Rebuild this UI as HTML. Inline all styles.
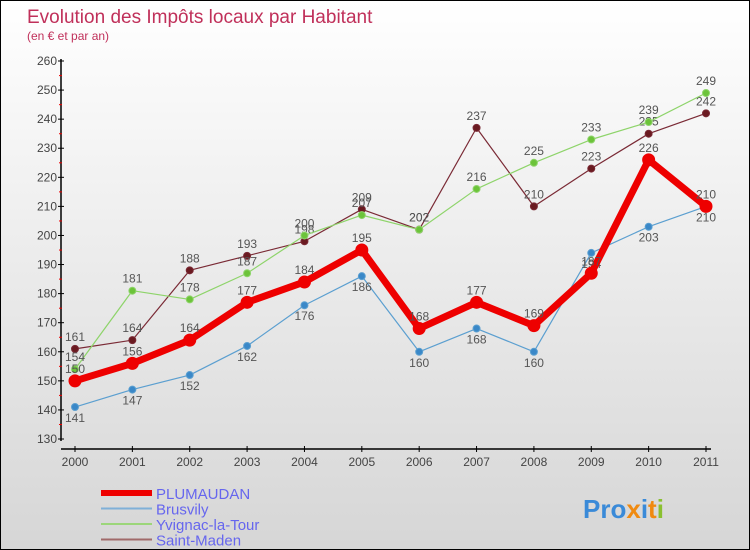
<!DOCTYPE html>
<html><head><meta charset="utf-8"><style>
body{margin:0}
#wrap{width:748px;height:548px;border:1px solid #000;background:linear-gradient(#fff,#d6d6d6);position:relative;font-family:"Liberation Sans",sans-serif;overflow:hidden}
</style></head><body>
<div id="wrap">
<svg id="chart" width="748" height="548"></svg>
</div>
<script>
const years=["2000","2001","2002","2003","2004","2005","2006","2007","2008","2009","2010","2011"];
const plumaudan=[150,156,164,177,184,195,168,177,169,187,226,210];
const brusvily=[141,147,152,162,176,186,160,168,160,194,203,210];
const yvignac=[154,181,178,187,200,207,202,216,225,233,239,249];
const saintMaden=[161,164,188,193,198,209,202,237,210,223,235,242];
const yTicks=[130,140,150,160,170,180,190,200,210,220,230,240,250,260];
const svg=document.getElementById('chart');const NS='http://www.w3.org/2000/svg';
function mk(t,a,p){const e=document.createElementNS(NS,t);for(const k in a)e.setAttribute(k,a[k]);(p||svg).appendChild(e);return e;}
const xS=i=>74+i*(631/11);
const yS=v=>438-(v-130)*(378/130);
let t=mk('text',{x:26,y:22,'font-size':19,fill:'#c0305a'});t.textContent='Evolution des Impôts locaux par Habitant';

t=mk('text',{x:26,y:39,'font-size':12,fill:'#c0305a'});t.textContent='(en € et par an)';

let ax=mk('line',{x1:60,y1:58,x2:60,y2:440,stroke:'#000','stroke-width':1.5});

ax=mk('line',{x1:60,y1:448,x2:710,y2:448,stroke:'#000','stroke-width':1.5});

yTicks.forEach((v,i)=>{const y=yS(v);mk('line',{x1:57,y1:y,x2:63,y2:y,stroke:'#000'});
if(i<yTicks.length-1)mk('line',{x1:58,y1:y-14.5,x2:61,y2:y-14.5,stroke:'#e00'});
const l=mk('text',{x:56,y:y+4,'font-size':12,fill:'#444','text-anchor':'end'});l.textContent=v;
});
years.forEach((yr,i)=>{const x=xS(i);mk('line',{x1:x,y1:445,x2:x,y2:451,stroke:'#000'});
const l=mk('text',{x:x,y:465,'font-size':12,fill:'#444','text-anchor':'middle'});l.textContent=yr;
});
function series(data,color,w,r,dot,name,labelBelow){
const g=mk('g',{});
mk('polyline',{points:data.map((v,i)=>xS(i)+','+yS(v)).join(' '),fill:'none',stroke:color,'stroke-width':w,'stroke-linejoin':'round'},g);
data.forEach((v,i)=>{const c=mk('circle',{cx:xS(i),cy:yS(v),r:r,fill:dot,stroke:color,'stroke-width':1},g);

const l=mk('text',{x:xS(i),y:labelBelow?yS(v)+15:yS(v)-8,'font-size':12,fill:'#555','text-anchor':'middle'},g);l.textContent=v;});}
series(saintMaden,'#7a2a35',1.2,3.5,'#6a1a20','saint-maden',false);
series(yvignac,'#8ed46a',1.2,3.5,'#6cc33a','yvignac',false);
series(brusvily,'#5b9fd0',1.2,3.5,'#3a88c8','brusvily',true);
series(plumaudan,'#ee0000',7,6,'#ee0000','plumaudan',false);
const leg=[['PLUMAUDAN','#ee0000',6],['Brusvily','#7fb0d8',2],['Yvignac-la-Tour','#9cd67a',2],['Saint-Maden','#a06a6a',2]];
leg.forEach((L,i)=>{const y=492+i*15.5;const g=mk('g',{});
mk('line',{x1:100,y1:y,x2:151,y2:y,stroke:L[1],'stroke-width':L[2]},g);
const tx=mk('text',{x:155,y:y+6,'font-size':15,fill:'#6666ee'},g);tx.textContent=L[0];});
const lg=mk('text',{x:582,y:517,'font-size':26,'font-weight':'bold'});
[['Pro','#3a8ad8'],['x','#f08a10'],['i','#3a8ad8'],['t','#f08a10'],['i','#8ac030']].forEach(p=>{const s=mk('tspan',{fill:p[1]},lg);s.textContent=p[0];});
</script>
</body></html>
